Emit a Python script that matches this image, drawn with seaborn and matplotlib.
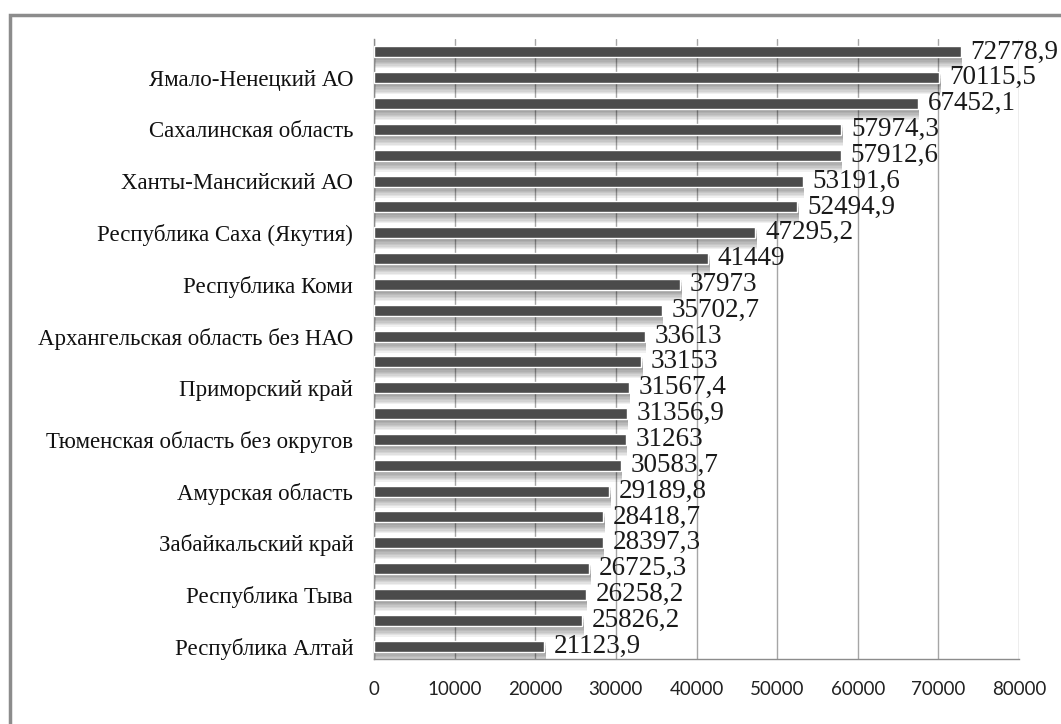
import numpy as np
import pandas as pd
import matplotlib
matplotlib.use("Agg")
import matplotlib.pyplot as plt
import matplotlib.patheffects as pe
from matplotlib.patches import Rectangle
import seaborn as sns

# labels shown on the axis (every second bar is unlabeled in the source)
regionLabels = [
    "", "Ямало-Ненецкий АО", "", "Сахалинская область", "", "Ханты-Мансийский АО",
    "", "Республика Саха (Якутия)", "", "Республика Коми", "", "Архангельская область без НАО",
    "", "Приморский край", "", "Тюменская область без округов", "", "Амурская область",
    "", "Забайкальский край", "", "Республика Тыва", "", "Республика Алтай",
]
values = [
    72778.9, 70115.5, 67452.1, 57974.3, 57912.6, 53191.6, 52494.9, 47295.2,
    41449, 37973, 35702.7, 33613, 33153, 31567.4, 31356.9, 31263,
    30583.7, 29189.8, 28418.7, 28397.3, 26725.3, 26258.2, 25826.2, 21123.9,
]
xTicks = [0, 10000, 20000, 30000, 40000, 50000, 60000, 70000, 80000]

sns.set_style("white")
plt.rcParams["font.family"] = ["Liberation Serif", "DejaVu Serif"]

data = pd.DataFrame({"pos": [str(i) for i in range(len(values))], "value": values})

fig = plt.figure(figsize=(10.61, 7.24), dpi=100)
ax = fig.add_axes([374 / 1061, 65 / 724, 645 / 1061, 620 / 724])

sns.barplot(data=data, x="value", y="pos", orient="y", color="#4b4b4b",
            saturation=1, width=0.42, ax=ax, zorder=3)

# soft drop shadow below each bar
shadow = [pe.SimplePatchShadow(offset=(1, -d), shadow_rgbFace="#000000", alpha=0.06)
          for d in (1, 2, 3, 4, 5, 6, 7, 8)]
for bar in ax.patches:
    bar.set_path_effects(shadow + [pe.Normal()])

valueTexts = [f"{v:.1f}".rstrip("0").rstrip(".").replace(".", ",") for v in values]
ax.bar_label(ax.containers[0], labels=valueTexts, padding=7, fontsize=19.5,
             color="#1a1a1a", family=["Liberation Serif"])

ax.set_xlim(0, 80000)
ax.set_ylim(len(values) - 0.5, -0.5)
ax.set_xticks(xTicks)
ax.set_xticklabels([str(t) for t in xTicks], family=["Lato", "DejaVu Sans"],
                   fontsize=13.5, color="#222222")
ax.set_yticks(range(len(values)))
ax.set_yticklabels(regionLabels, fontsize=16.5, color="#111111")
ax.set_yticks(np.arange(-0.5, len(values), 1), minor=True)
ax.tick_params(axis="y", which="major", length=0, pad=15)
ax.tick_params(axis="y", which="minor", length=6, color="#8c8c8c", width=1)
ax.tick_params(axis="x", length=8, color="#8c8c8c", width=1, pad=8)
ax.set_xlabel("")
ax.set_ylabel("")

ax.grid(axis="x", color="#a6a6a6", linewidth=1, zorder=0)
ax.set_axisbelow(True)
for side in ["top", "right"]:
    ax.spines[side].set_visible(False)
for side in ["left", "bottom"]:
    ax.spines[side].set_color("#8c8c8c")
    ax.spines[side].set_linewidth(1)

# outer chart frame
fig.patches.append(Rectangle((10 / 1061, -0.1), 1.2, (724 - 15) / 724 + 0.1,
                             transform=fig.transFigure, fill=False,
                             edgecolor="#8c8c8c", linewidth=2.5))

fig.savefig("out.png", dpi=100)
